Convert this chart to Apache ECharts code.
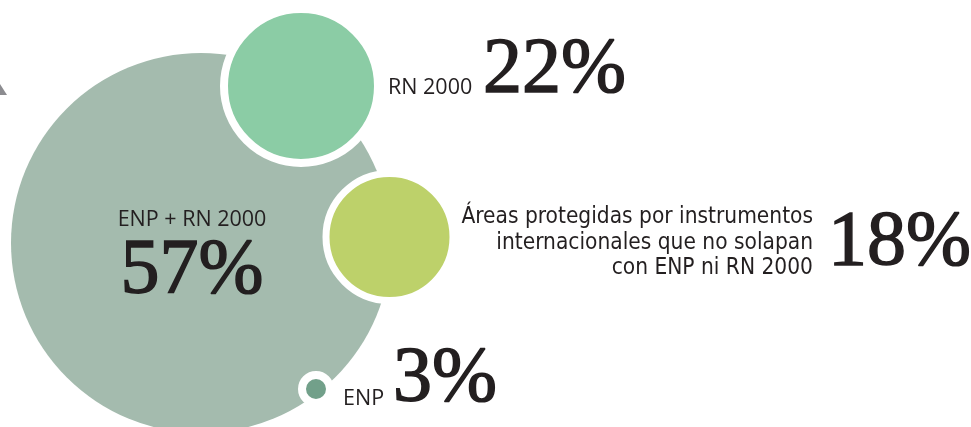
<!DOCTYPE html>
<html><head><meta charset="utf-8">
<script src="https://cdn.jsdelivr.net/npm/echarts@6/dist/echarts.min.js"></script>
<style>html,body{margin:0;padding:0;background:#fff}#c{width:971px;height:427px}</style>
</head><body><div id="c"></div>
<script>
// ---- data ----
const categories = ['ENP + RN 2000', 'RN 2000', 'Áreas protegidas por instrumentos\ninternacionales que no solapan\ncon ENP ni RN 2000', 'ENP'];
const values = [57, 22, 18, 3];

// ---- layout (axis units = pixels) ----
const bubbleX = [201, 301, 389.5, 316];
const bubbleY = [243, 86, 237, 389];
const bubbleR = [190, 73, 60, 10];
const ringW = [0, 8, 7, 8];
const colors = ['#a4bbae', '#8bcca5', '#bdd16a', '#72a08a'];
const nameAnchor = [[192, 220, 'center'], [388, 87.5, 'left'], [813, 243, 'right'], [343, 399, 'left']];
const valueAnchor = [[192, 272, 'center'], [483, 71, 'left'], [828, 244, 'left'], [393, 380, 'left']];

const ink = '#231f20';
const smallStyle = { fontFamily: '"Open Sans", sans-serif', fontSize: 21.5, color: ink, opacity: 1 };
const blockStyle = { fontFamily: '"Liberation Sans Narrow","DejaVu Sans Condensed",sans-serif', fontSize: 22.5, lineHeight: 25.5, color: ink, opacity: 1 };
const bigStyle = { fontFamily: '"Liberation Serif", serif', fontSize: 78, color: ink, textBorderColor: ink, textBorderWidth: 1.5, opacity: 1 };

const bubbles = categories.map((c, i) => ({
  name: c,
  value: [bubbleX[i], bubbleY[i], values[i]],
  symbolSize: 2 * (bubbleR[i] + ringW[i] / 2),
  itemStyle: { color: colors[i], borderColor: '#ffffff', borderWidth: ringW[i], opacity: 1 }
}));

const labels = [];
categories.forEach((c, i) => {
  const st = i === 2 ? blockStyle : smallStyle;
  labels.push({ name: c, value: [nameAnchor[i][0], nameAnchor[i][1]],
    label: Object.assign({ show: true, position: 'inside', align: nameAnchor[i][2], verticalAlign: 'middle', formatter: c }, st) });
  labels.push({ name: values[i] + '%', value: [valueAnchor[i][0], valueAnchor[i][1]],
    label: Object.assign({ show: true, position: 'inside', align: valueAnchor[i][2], verticalAlign: 'middle', formatter: values[i] + '%' }, bigStyle) });
});

const chart = echarts.init(document.getElementById('c'), null, { renderer: 'canvas' });
chart.setOption({
  animation: false,
  backgroundColor: '#ffffff',
  grid: { left: 0, right: 0, top: 0, bottom: 0 },
  xAxis: { type: 'value', min: 0, max: 971, show: false },
  yAxis: { type: 'value', min: 0, max: 427, inverse: true, show: false },
  graphic: [{ type: 'polygon', shape: { points: [[0, 84], [7, 95], [0, 95]] }, style: { fill: '#8c8c90' } }],
  series: [
    { type: 'scatter', symbol: 'circle', data: bubbles, silent: true, z: 2, itemStyle: { opacity: 1 } },
    { type: 'scatter', symbolSize: 0, data: labels, silent: true, z: 3, itemStyle: { opacity: 1 } }
  ]
});
</script></body></html>
